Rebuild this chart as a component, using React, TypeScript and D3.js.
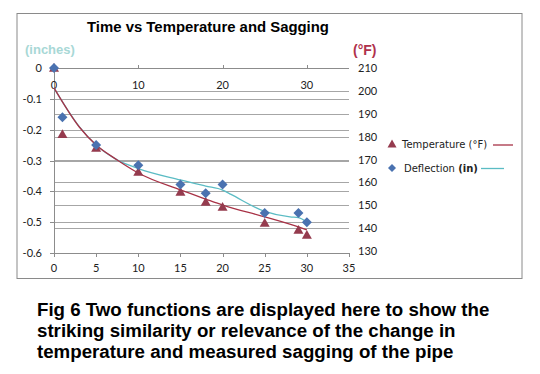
import React from "react";
import * as d3 from "d3";

// Measured data
const timeDefl = [0, 1, 5, 10, 15, 18, 20, 25, 29, 30];
const deflection = [0, -0.16, -0.25, -0.315, -0.378, -0.406, -0.378, -0.47, -0.47, -0.5];
const timeTemp = [0, 1, 5, 10, 15, 18, 20, 25, 29, 30];
const temperature = [210, 181, 175, 164.5, 155.8, 151.4, 149.2, 142.2, 139.2, 137];

// Trend curves
const trendT = [0, 3, 5, 7.5, 10, 15, 18, 20, 25, 29, 30];
const trendTemp = [201.3, 184.2, 176.3, 169.8, 164.1, 156.7, 152.7, 150.1, 144.9, 140.5, 139.2];
const trendDT = [0, 3, 5, 7.5, 10, 15, 18, 20, 21, 25, 28, 29, 30];
const trendDefl = [-0.065, -0.19, -0.25, -0.298, -0.326, -0.363, -0.383, -0.396, -0.41, -0.465, -0.483, -0.485, -0.5];

const deflTicks = [0, -0.1, -0.2, -0.3, -0.4, -0.5, -0.6];
const tempTicks = [210, 200, 190, 180, 170, 160, 150, 140, 130];
const bottomTicks = [0, 5, 10, 15, 20, 25, 30, 35];
const topTicks = [0, 10, 20, 30];

const title = "Time vs Temperature and Sagging";
const caption = [
  "Fig 6 Two functions are displayed here to show the",
  "striking similarity or relevance of the change in",
  "temperature and measured sagging of the pipe",
];

export default function App() {
  const W = 540, H = 374;
  const x = d3.scaleLinear().domain([0, 35]).range([54, 349]);
  const yD = d3.scaleLinear().domain([0, -0.6]).range([68, 253]);
  const yT = d3.scaleLinear().domain([210, 130]).range([68, 251]);
  const grid = "#a6a6a6";
  const axis = "#8c8c8c";
  const lab = "Lato, 'Open Sans', sans-serif";
  const blue = "#4a72b0";
  const red = "#953b4e";
  const redLine = "#a83246";
  const teal = "#5bbcc4";

  const lineT = d3.line<number>().x((_, i) => x(trendT[i])).y((d) => yT(d)).curve(d3.curveMonotoneX);
  const lineD = d3.line<number>().x((_, i) => x(trendDT[i])).y((d) => yD(d)).curve(d3.curveMonotoneX);

  const diamond = (cx: number, cy: number, r = 5) =>
    `M${cx},${cy - r}L${cx + r},${cy}L${cx},${cy + r}L${cx - r},${cy}Z`;
  const tri = (cx: number, cy: number, r = 5) =>
    `M${cx},${cy - r}L${cx + r},${cy + r * 0.75}L${cx - r},${cy + r * 0.75}Z`;

  return (
    <svg width={W} height={H} style={{ position: "absolute", left: 0, top: 0, background: "#fff" }}>
      <rect x={0} y={0} width={W} height={H} fill="#fff" />
      <rect x={17} y={13.5} width={505} height={265} fill="none" stroke="#8a8a8a" strokeWidth={1} />
      <text x={208} y={32} textAnchor="middle" fontFamily="'Liberation Sans', Arial, sans-serif" fontWeight="bold" fontSize={14.9} fill="#000">
        {title}
      </text>
      <text x={25} y={54} fontFamily="'Liberation Sans', Arial, sans-serif" fontWeight="bold" fontSize={13} fill="#a8d8d6">(inches)</text>
      <text x={353} y={55} fontFamily="'Liberation Sans', Arial, sans-serif" fontWeight="bold" fontSize={14} fill="#b0314c">(°F)</text>

      {/* gridlines */}
      {deflTicks.slice(1, -1).map((t) => (
        <line key={"gd" + t} x1={50} x2={x(35)} y1={Math.round(yD(t)) + 0.5} y2={Math.round(yD(t)) + 0.5} stroke={grid} />
      ))}
      {tempTicks.slice(1, -1).map((t) => (
        <line key={"gt" + t} x1={x(0)} x2={x(35)} y1={Math.round(yT(t)) + 0.5} y2={Math.round(yT(t)) + 0.5} stroke={grid} />
      ))}

      {/* axes */}
      <line x1={x(0) + 0.5} x2={x(0) + 0.5} y1={yD(0)} y2={yD(-0.6)} stroke={axis} />
      <line x1={50} x2={x(35)} y1={Math.round(yD(0)) + 0.5} y2={Math.round(yD(0)) + 0.5} stroke={axis} />
      <line x1={x(0)} x2={x(35)} y1={Math.round(yD(-0.6)) + 0.5} y2={Math.round(yD(-0.6)) + 0.5} stroke={axis} />
      {deflTicks.map((t) => (
        <g key={"ld" + t}>
          <line x1={50} x2={x(0)} y1={Math.round(yD(t)) + 0.5} y2={Math.round(yD(t)) + 0.5} stroke={axis} />
          <text x={42} y={yD(t) + 4} textAnchor="end" fontFamily={lab} fontSize={11} fill="#222">{t === 0 ? "0" : d3.format(".1f")(t).replace("−", "-")}</text>
        </g>
      ))}
      {tempTicks.map((t) => (
        <text key={"lt" + t} x={358} y={yT(t) + 4} fontFamily={lab} fontSize={11} fill="#222">{t}</text>
      ))}
      {bottomTicks.map((t) => (
        <g key={"bx" + t}>
          <line x1={Math.round(x(t)) + 0.5} x2={Math.round(x(t)) + 0.5} y1={yD(-0.6)} y2={yD(-0.6) + 4} stroke={axis} />
          <text x={x(t)} y={272} textAnchor="middle" fontFamily={lab} fontSize={11} fill="#222">{t}</text>
        </g>
      ))}
      {topTicks.map((t) => (
        <g key={"tx" + t}>
          <line x1={Math.round(x(t)) + 0.5} x2={Math.round(x(t)) + 0.5} y1={yT(210) - 3} y2={yT(210) + 1} stroke={axis} />
          <text x={x(t)} y={89} textAnchor="middle" fontFamily={lab} fontSize={11} fill="#222">{t}</text>
        </g>
      ))}

      {/* trend curves */}
      <path d={lineD(trendDefl) || ""} fill="none" stroke={teal} strokeWidth={1.3} />
      <path d={lineT(trendTemp) || ""} fill="none" stroke={redLine} strokeWidth={1.3} />

      {/* markers */}
      {temperature.map((v, i) => (
        <path key={"t" + i} d={tri(x(timeTemp[i]), yT(v))} fill={red} />
      ))}
      {deflection.map((v, i) => (
        <path key={"d" + i} d={diamond(x(timeDefl[i]), yD(v))} fill={blue} />
      ))}

      {/* legend */}
      <path d={tri(392, 144, 4.5)} fill={red} />
      <text x={402} y={147.5} fontFamily="'DejaVu Sans', Verdana, sans-serif" fontSize={10} fill="#222">Temperature (°F)</text>
      <line x1={493} x2={513} y1={145} y2={145} stroke={redLine} strokeWidth={1.3} />
      <path d={diamond(392, 168, 4)} fill={blue} />
      <text x={404} y={171.5} fontFamily="'DejaVu Sans', Verdana, sans-serif" fontSize={10} fill="#222">
        Deflection <tspan fontWeight="bold">(in)</tspan>
      </text>
      <line x1={481} x2={504} y1={168.5} y2={168.5} stroke={teal} strokeWidth={1.3} />

      {/* caption */}
      {caption.map((c, i) => (
        <text key={"c" + i} x={37} y={316 + i * 21.2} fontFamily="'Liberation Sans', Arial, sans-serif" fontWeight="bold" fontSize={18.7} fill="#000">{c}</text>
      ))}
    </svg>
  );
}
